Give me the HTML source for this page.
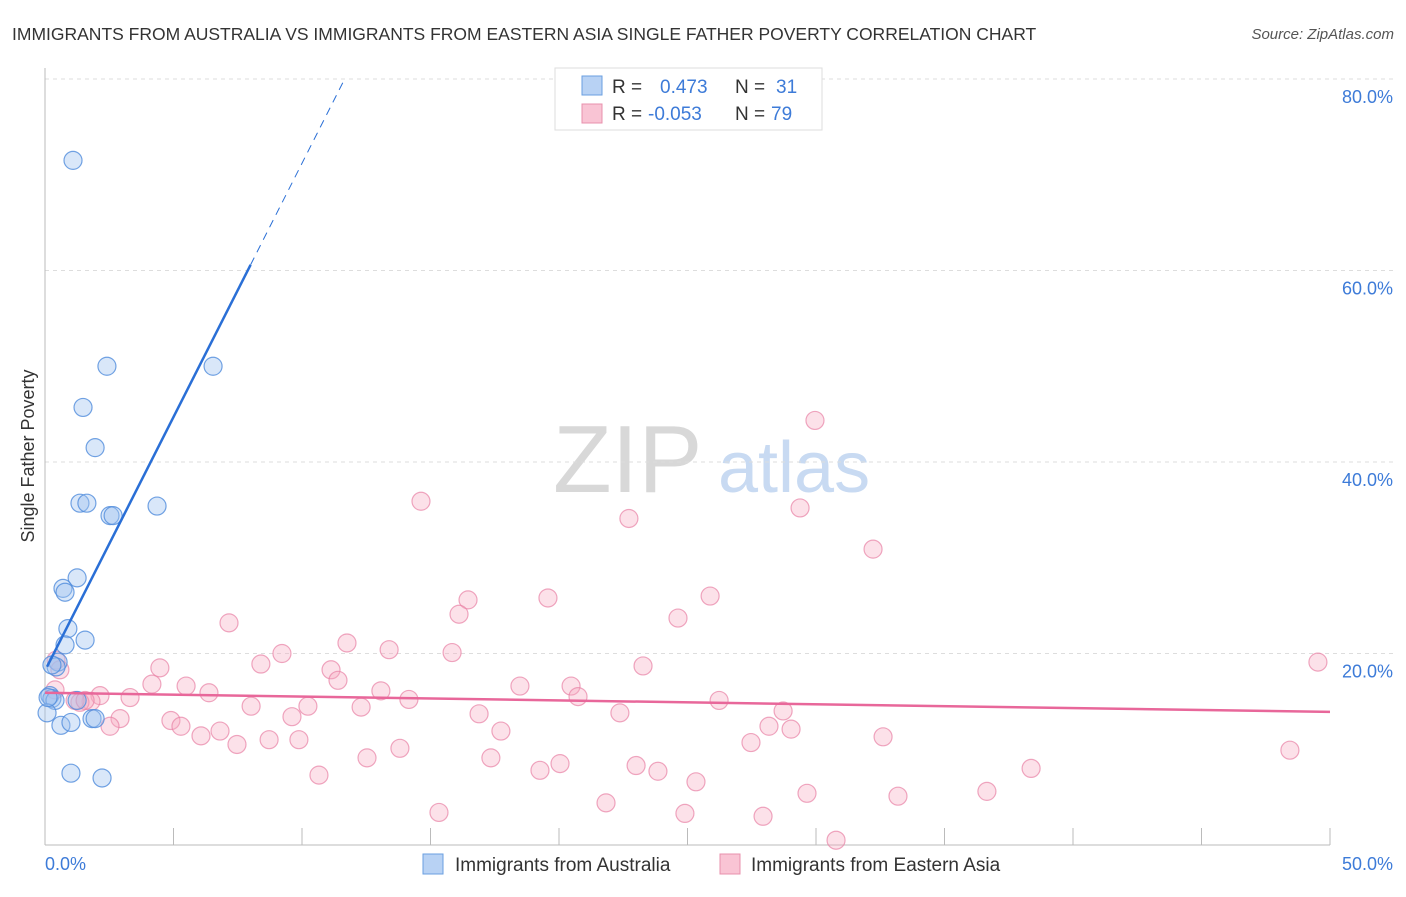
<!DOCTYPE html>
<html><head><meta charset="utf-8"><style>
body{margin:0;background:#fff;font-family:"Liberation Sans",sans-serif;}
svg text{font-family:"Liberation Sans",sans-serif;}
</style></head><body>
<svg id="chart" width="1406" height="892" xmlns="http://www.w3.org/2000/svg">
<text x="12" y="40" font-size="17.5" fill="#333">IMMIGRANTS FROM AUSTRALIA VS IMMIGRANTS FROM EASTERN ASIA SINGLE FATHER POVERTY CORRELATION CHART</text>
<text x="1394" y="39" font-size="15" fill="#555" font-style="italic" text-anchor="end">Source: ZipAtlas.com</text>
<g>
<text x="553" y="492" font-size="96" fill="#d8d8d8" font-family="Liberation Serif, serif">ZIP</text>
<text x="718" y="492" font-size="72" fill="#c8daf2">atlas</text>
</g>
<text transform="translate(34,456) rotate(-90)" font-size="18" fill="#333" text-anchor="middle">Single Father Poverty</text>
<g id="grid"></g>
<g id="axes"></g>
<g id="marks"></g>
<g>
<rect x="555" y="68" width="267" height="62" fill="#fff" stroke="#ddd"/>
<rect x="582" y="76" width="20" height="19" fill="#b8d2f4" stroke="#6a9fe0"/>
<rect x="582" y="104" width="20" height="19" fill="#f9c4d4" stroke="#e890ac"/>
<text x="612" y="93" font-size="19" fill="#333">R =</text>
<text x="660" y="93" font-size="19" fill="#3d7bd8">0.473</text>
<text x="735" y="93" font-size="19" fill="#333">N =</text>
<text x="776" y="93" font-size="19" fill="#3d7bd8">31</text>
<text x="612" y="120" font-size="19" fill="#333">R =</text>
<text x="648" y="120" font-size="19" fill="#3d7bd8">-0.053</text>
<text x="735" y="120" font-size="19" fill="#333">N =</text>
<text x="771" y="120" font-size="19" fill="#3d7bd8">79</text>
</g>
<g>
<rect x="423" y="854" width="20" height="20" fill="#b8d2f4" stroke="#6a9fe0"/>
<text x="455" y="871" font-size="19" fill="#333">Immigrants from Australia</text>
<rect x="720" y="854" width="20" height="20" fill="#f9c4d4" stroke="#e890ac"/>
<text x="751" y="871" font-size="19" fill="#333">Immigrants from Eastern Asia</text>
</g>
</svg>
<script>
const xTicks=[0,5,10,15,20,25,30,35,40,45,50];
const yTicks=[20,40,60,80];
const blueX=[1.09,2.41,6.54,1.48,1.95,1.36,1.63,4.36,2.53,2.65,1.25,0.70,0.78,0.89,1.56,0.78,0.51,0.43,0.19,0.27,0.39,1.25,0.08,0.62,1.01,1.83,1.95,1.01,2.22,0.12,0.27];
const blueY=[71.5,50.0,50.0,45.7,41.5,35.7,35.7,35.4,34.4,34.4,27.9,26.8,26.4,22.6,21.4,20.9,19.1,18.6,15.6,15.3,15.1,15.1,13.8,12.5,12.8,13.2,13.2,7.5,7.0,15.4,18.8];
const pinkX=[29.96,14.63,22.72,29.38,32.22,16.46,19.57,25.88,16.11,24.63,7.16,11.75,9.22,13.39,15.84,49.53,4.47,8.40,11.13,23.27,11.40,4.16,5.49,18.48,20.47,13.07,6.38,20.74,2.14,3.31,14.16,26.23,1.79,1.36,8.02,10.23,12.30,16.89,22.37,28.72,2.92,4.90,9.61,5.29,2.53,28.17,29.03,17.74,6.81,6.07,27.47,32.61,7.47,8.72,9.88,13.81,48.44,12.53,17.35,20.04,23.0,23.85,19.26,10.66,38.37,25.33,29.65,36.65,33.19,21.83,15.33,24.9,27.94,30.78,0.43,0.39,1.17,0.58,1.56];
const pinkY=[44.34,35.9,34.1,35.2,30.9,25.6,25.8,26.0,24.1,23.7,23.2,21.1,20.0,20.4,20.1,19.1,18.5,18.9,18.3,18.7,17.2,16.8,16.6,16.6,16.6,16.1,15.9,15.5,15.6,15.4,15.2,15.1,15.0,14.9,14.5,14.5,14.4,13.7,13.8,14.0,13.2,13.0,13.4,12.4,12.4,12.4,12.1,11.9,11.9,11.4,10.7,11.3,10.5,11.0,11.0,10.1,9.9,9.1,9.1,8.5,8.3,7.7,7.8,7.3,8.0,6.6,5.4,5.6,5.1,4.4,3.4,3.3,3.0,0.5,19.3,16.2,15.1,18.3,15.1];
const blueTrend=[18.2,5.3];   // intercept, slope
const pinkTrend=[15.9,-0.04];
const X0=45,X1=1330,Y0=845,Y80=79;
const sx=v=>X0+(X1-X0)*v/50;
const sy=v=>Y0-(Y0-Y80)*v/80;
const NS="http://www.w3.org/2000/svg";
function mk(tag,attrs,parent){const e=document.createElementNS(NS,tag);for(const k in attrs)e.setAttribute(k,attrs[k]);parent.appendChild(e);return e;}
const grid=document.getElementById('grid'),axes=document.getElementById('axes'),marks=document.getElementById('marks');
yTicks.forEach(t=>{
 const l=mk('line',{x1:X0,x2:1395,y1:sy(t),y2:sy(t),stroke:'#ddd','stroke-dasharray':'4,4'},grid);
 
 
 const tx=mk('text',{x:1393,y:sy(t)+24,'font-size':18,fill:'#3d7bd8','text-anchor':'end'},axes);
 tx.textContent=t.toFixed(1)+'%';
 
 
});
const ya=mk('line',{x1:X0,x2:X0,y1:68,y2:Y0,stroke:'#bbb'},axes);


const xa=mk('line',{x1:X0,x2:X1,y1:Y0,y2:Y0,stroke:'#bbb'},axes);


xTicks.forEach(t=>{
 const l=mk('line',{x1:sx(t),x2:sx(t),y1:828,y2:Y0,stroke:'#bbb'},axes);
 
 
});
[[0,X0,'start'],[50,1393,'end']].forEach(([v,x,a])=>{
 const tx=mk('text',{x:x,y:870,'font-size':18,fill:'#3d7bd8','text-anchor':a},axes);
 tx.textContent=v.toFixed(1)+'%';
 
 
});
pinkX.forEach((x,i)=>{
 const c=mk('circle',{cx:sx(x),cy:sy(pinkY[i]),r:9,fill:'rgba(246,168,192,0.35)',stroke:'rgba(232,130,165,0.7)','stroke-width':1.2},marks);
 
 
});
blueX.forEach((x,i)=>{
 const c=mk('circle',{cx:sx(x),cy:sy(blueY[i]),r:9,fill:'rgba(160,196,240,0.4)',stroke:'rgba(80,140,220,0.8)','stroke-width':1.2},marks);
 
 
});
const pl=mk('line',{x1:sx(0),y1:sy(pinkTrend[0]),x2:sx(50),y2:sy(pinkTrend[0]+pinkTrend[1]*50),stroke:'#e8679a','stroke-width':2.5},marks);


const bx1=8,bx2=(80-blueTrend[0])/blueTrend[1];
const bl=mk('line',{x1:sx(0.08),y1:sy(blueTrend[0]+blueTrend[1]*0.08),x2:sx(bx1),y2:sy(blueTrend[0]+blueTrend[1]*bx1),stroke:'#2a6fd6','stroke-width':2.5},marks);


const bd=mk('line',{x1:sx(bx1),y1:sy(blueTrend[0]+blueTrend[1]*bx1),x2:sx(bx2),y2:sy(80),stroke:'#2a6fd6','stroke-width':1,'stroke-dasharray':'8,6'},marks);


</script>
</body></html>
